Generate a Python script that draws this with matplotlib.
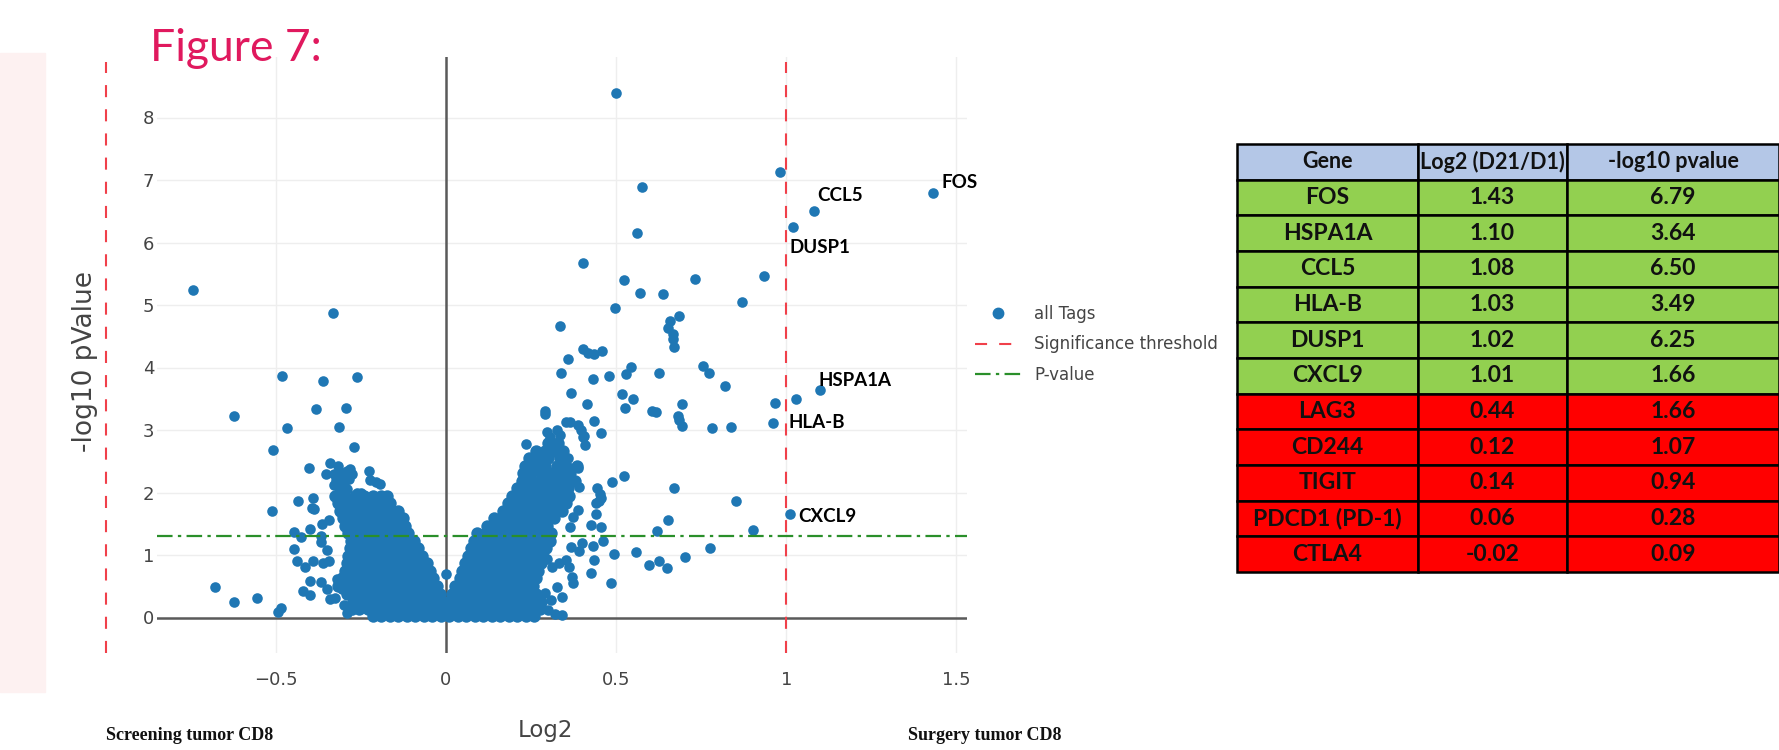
import numpy as np
import matplotlib.pyplot as plt
from matplotlib.patches import Rectangle
from matplotlib.lines import Line2D

# genes from the table (also plotted in the volcano)
genes = ['FOS', 'HSPA1A', 'CCL5', 'HLA-B', 'DUSP1', 'CXCL9',
         'LAG3', 'CD244', 'TIGIT', 'PDCD1 (PD-1)', 'CTLA4']
log2_fc = [1.43, 1.10, 1.08, 1.03, 1.02, 1.01, 0.44, 0.12, 0.14, 0.06, -0.02]
neg_log10_p = [6.79, 3.64, 6.50, 3.49, 6.25, 1.66, 1.66, 1.07, 0.94, 0.28, 0.09]
n_up = 6  # first rows are green in the table

# label offsets (pixels) for the annotated genes
label_offsets = {'FOS': (9, 11, 'left'), 'CCL5': (4, 16, 'left'),
                 'DUSP1': (-4, -21, 'left'), 'HSPA1A': (-2, 10, 'left'),
                 'HLA-B': (-8, -23, 'left'), 'CXCL9': (9, -3, 'left')}

fc_threshold = 1.0
p_threshold = 1.301

# sparse tags (log2, -log10 p)
left_tags = [(-0.742, 5.24), (-0.331, 4.87), (-0.483, 3.86), (-0.360, 3.79), (-0.261, 3.85),
             (-0.623, 3.23), (-0.383, 3.33), (-0.295, 3.35), (-0.468, 3.04), (-0.314, 3.05),
             (-0.509, 2.68), (-0.269, 2.73), (-0.402, 2.40), (-0.512, 1.71), (-0.434, 1.87),
             (-0.392, 1.92), (-0.395, 1.76), (-0.388, 1.73), (-0.678, 0.49), (-0.623, 0.25),
             (-0.554, 0.31), (-0.493, 0.09), (-0.485, 0.15), (-0.446, 1.37), (-0.446, 1.10),
             (-0.439, 0.91), (-0.415, 0.81), (-0.427, 1.29), (-0.400, 1.41), (-0.391, 0.90),
             (-0.368, 1.31), (-0.368, 1.21), (-0.365, 1.50), (-0.343, 1.56), (-0.350, 1.08),
             (-0.360, 0.87), (-0.345, 0.90), (-0.400, 0.59), (-0.421, 0.43), (-0.400, 0.36),
             (-0.368, 0.57), (-0.350, 0.46), (-0.341, 0.29), (-0.326, 0.31), (-0.306, 0.46),
             (-0.320, 0.62), (-0.277, 0.25), (-0.277, 0.12), (-0.290, 0.08), (-0.300, 0.20),
             (-0.341, 2.47), (-0.316, 2.42), (-0.353, 2.29), (-0.330, 2.30), (-0.310, 2.33),
             (-0.292, 2.35), (-0.283, 2.38), (-0.275, 2.30), (-0.225, 2.34), (-0.222, 2.20),
             (-0.205, 2.17), (-0.195, 2.13), (-0.322, 2.20), (-0.318, 2.10), (-0.300, 2.16),
             (-0.290, 2.05), (-0.310, 2.02), (-0.262, 1.99), (-0.250, 1.99), (-0.235, 1.93),
             (-0.220, 1.88), (-0.205, 1.83), (-0.330, 2.12), (-0.305, 2.25), (-0.285, 2.22)]

right_tags = [(0.501, 8.39), (0.575, 6.89), (0.560, 6.15), (0.402, 5.67), (0.523, 5.40),
              (0.731, 5.41), (0.571, 5.20), (0.637, 5.17), (0.497, 4.95), (0.870, 5.05),
              (0.335, 4.67), (0.686, 4.83), (0.658, 4.75), (0.653, 4.63), (0.666, 4.53),
              (0.668, 4.45), (0.671, 4.33), (0.402, 4.29), (0.418, 4.23), (0.435, 4.22),
              (0.459, 4.26), (0.359, 4.14), (0.337, 3.92), (0.431, 3.81), (0.479, 3.86),
              (0.529, 3.89), (0.543, 4.01), (0.625, 3.92), (0.754, 4.02), (0.773, 3.92),
              (0.820, 3.70), (0.366, 3.60), (0.516, 3.57), (0.550, 3.50), (0.526, 3.36),
              (0.414, 3.42), (0.606, 3.30), (0.617, 3.29), (0.695, 3.42), (0.683, 3.22),
              (0.686, 3.16), (0.693, 3.06), (0.783, 3.04), (0.839, 3.05), (0.291, 3.31),
              (0.291, 3.26), (0.434, 3.15), (0.457, 2.95), (0.405, 2.90), (0.408, 2.76),
              (0.235, 2.77), (0.359, 2.55), (0.387, 2.40), (0.489, 2.17), (0.523, 2.27),
              (0.671, 2.07), (0.852, 1.87), (0.443, 2.08), (0.452, 1.98), (0.457, 1.92),
              (0.449, 1.86), (0.440, 1.83), (0.392, 2.09), (0.651, 1.56), (0.621, 1.38),
              (0.425, 1.48), (0.457, 1.45), (0.462, 1.23), (0.433, 1.14), (0.434, 0.92),
              (0.426, 0.71), (0.494, 1.01), (0.557, 1.05), (0.486, 0.56), (0.596, 0.84),
              (0.625, 0.90), (0.650, 0.80), (0.703, 0.97), (0.777, 1.12), (0.903, 1.40),
              (0.983, 7.13), (0.935, 5.46), (0.967, 3.44), (0.962, 3.11), (0.369, 0.65),
              (0.374, 0.55), (0.326, 0.49), (0.341, 0.33), (0.341, 0.04), (0.366, 1.13),
              (0.352, 0.92), (0.332, 0.87), (0.362, 0.81), (0.400, 1.20), (0.390, 1.07),
              (0.374, 1.61), (0.388, 1.72), (0.365, 1.45), (0.298, 0.93), (0.312, 0.81),
              (0.354, 3.13), (0.364, 3.13), (0.388, 3.08), (0.398, 3.00), (0.403, 2.89),
              (0.325, 3.00), (0.335, 2.92), (0.296, 2.97), (0.306, 2.89), (0.000, 0.70),
              (0.300, 0.12), (0.310, 0.28), (0.290, 0.40), (0.320, 0.05)]

# dense V-shaped mass, read row by row: (-log10 p, [log2 values])
base_rows = [
    (0.03, [-0.215, -0.19, -0.165, -0.14, -0.115, -0.09, -0.065, -0.04, -0.015, 0.01,
            0.035, 0.06, 0.085, 0.11, 0.135, 0.16, 0.185, 0.21, 0.235, 0.26]),
    (0.13, [-0.255, -0.228, -0.203, -0.178, -0.153, -0.128, -0.103, -0.078, -0.053, -0.028,
            -0.003, 0.022, 0.047, 0.072, 0.097, 0.122, 0.147, 0.172, 0.197, 0.222, 0.247, 0.275]),
    (0.25, [-0.27, -0.245, -0.22, -0.195, -0.17, -0.145, -0.12, -0.095, -0.07, -0.045, -0.02,
            0.005, 0.03, 0.055, 0.08, 0.105, 0.13, 0.155, 0.18, 0.205, 0.23, 0.255, 0.28]),
    (0.37, [-0.292, -0.265, -0.24, -0.215, -0.19, -0.165, -0.14, -0.115, -0.09, -0.065, -0.04,
            -0.018, 0.018, 0.042, 0.067, 0.092, 0.117, 0.142, 0.167, 0.192, 0.217, 0.242, 0.265]),
]

left_arm_rows = [
    (0.51, [-0.318, -0.293, -0.268, -0.243, -0.218, -0.193, -0.168, -0.143, -0.118, -0.093, -0.068, -0.043, -0.025]),
    (0.63, [-0.305, -0.28, -0.255, -0.23, -0.205, -0.18, -0.155, -0.13, -0.105, -0.08, -0.055, -0.037]),
    (0.75, [-0.298, -0.273, -0.248, -0.223, -0.198, -0.173, -0.148, -0.123, -0.098, -0.073, -0.048]),
    (0.87, [-0.292, -0.267, -0.242, -0.217, -0.192, -0.167, -0.142, -0.117, -0.092, -0.067, -0.055]),
    (0.99, [-0.288, -0.263, -0.238, -0.213, -0.188, -0.163, -0.138, -0.113, -0.088, -0.07]),
    (1.11, [-0.283, -0.258, -0.233, -0.208, -0.183, -0.158, -0.133, -0.108, -0.082]),
    (1.23, [-0.279, -0.254, -0.229, -0.204, -0.179, -0.154, -0.129, -0.104, -0.094]),
    (1.35, [-0.287, -0.262, -0.237, -0.212, -0.187, -0.162, -0.137, -0.112]),
    (1.47, [-0.298, -0.27, -0.245, -0.22, -0.195, -0.17, -0.145, -0.12]),
    (1.59, [-0.303, -0.278, -0.25, -0.222, -0.197, -0.172, -0.147, -0.127]),
    (1.71, [-0.312, -0.284, -0.258, -0.232, -0.205, -0.18, -0.155, -0.14]),
    (1.83, [-0.318, -0.29, -0.262, -0.235, -0.21, -0.185, -0.163]),
    (1.95, [-0.326, -0.3, -0.268, -0.24, -0.215, -0.19, -0.172]),
]

right_arm_rows = [
    (0.51, [0.028, 0.053, 0.078, 0.103, 0.128, 0.153, 0.178, 0.203, 0.228, 0.255]),
    (0.63, [0.04, 0.065, 0.09, 0.115, 0.14, 0.165, 0.19, 0.215, 0.24, 0.265]),
    (0.75, [0.048, 0.073, 0.098, 0.123, 0.148, 0.173, 0.198, 0.223, 0.248, 0.27]),
    (0.87, [0.057, 0.082, 0.107, 0.132, 0.157, 0.182, 0.207, 0.232, 0.257, 0.278]),
    (0.99, [0.066, 0.091, 0.116, 0.141, 0.166, 0.191, 0.216, 0.241, 0.266, 0.285]),
    (1.11, [0.074, 0.099, 0.124, 0.149, 0.174, 0.199, 0.224, 0.249, 0.274, 0.295]),
    (1.23, [0.082, 0.107, 0.132, 0.157, 0.182, 0.207, 0.232, 0.257, 0.282, 0.305]),
    (1.35, [0.092, 0.117, 0.142, 0.167, 0.192, 0.217, 0.242, 0.267, 0.29, 0.31]),
    (1.47, [0.121, 0.146, 0.171, 0.196, 0.221, 0.246, 0.271, 0.296]),
    (1.59, [0.142, 0.167, 0.192, 0.217, 0.242, 0.267, 0.292, 0.318]),
    (1.71, [0.168, 0.193, 0.218, 0.243, 0.268, 0.293, 0.32, 0.34]),
    (1.83, [0.182, 0.207, 0.232, 0.257, 0.282, 0.307, 0.333, 0.352]),
    (1.95, [0.195, 0.22, 0.245, 0.27, 0.295, 0.32, 0.345, 0.362]),
    (2.07, [0.208, 0.233, 0.258, 0.283, 0.31, 0.335, 0.36]),
    (2.19, [0.222, 0.25, 0.275, 0.30, 0.33, 0.355, 0.378]),
    (2.31, [0.225, 0.25, 0.28, 0.31, 0.34, 0.365]),
    (2.43, [0.232, 0.26, 0.29, 0.325, 0.352, 0.385]),
    (2.55, [0.243, 0.27, 0.30, 0.335]),
    (2.67, [0.265, 0.29, 0.318, 0.345]),
    (2.80, [0.30, 0.33]),
]

sparse_x, sparse_y = [], []
for pts in (left_tags, right_tags):
    for x, y in pts:
        sparse_x.append(x)
        sparse_y.append(y)
sparse_x += log2_fc
sparse_y += neg_log10_p

dense_x, dense_y = [], []
for rows in (base_rows, left_arm_rows, right_arm_rows):
    for y, row in rows:
        dense_x += row
        dense_y += [y] * len(row)

blue = '#1f77b4'
grey_txt = '#444444'
red = '#f0404a'
green = '#2a8f2a'

fig = plt.figure(figsize=(17.79, 7.5), dpi=100)

# pale strip on the far left
fig.patches.append(Rectangle((0, 58 / 750), 45 / 1779, 639 / 750,
                             transform=fig.transFigure, color='#fdf1f1', zorder=0))

ax = fig.add_axes([157 / 1779, 97 / 750, 810 / 1779, 596 / 750])
ax.set_xlim(-0.849, 1.531)
ax.set_ylim(-0.568, 8.968)
for s in ax.spines.values():
    s.set_visible(False)

ax.set_xticks([-0.5, 0, 0.5, 1, 1.5])
ax.set_xticklabels(['\u22120.5', '0', '0.5', '1', '1.5'])
ax.set_yticks(range(0, 9))
ax.tick_params(axis='both', length=0, labelsize=13, labelcolor=grey_txt)
ax.tick_params(axis='y', pad=2)
ax.tick_params(axis='x', pad=13)
ax.grid(True, color='#eeeeee', linewidth=1)
ax.set_axisbelow(True)

ax.axhline(0, color='#5a5a5a', linewidth=1.8, zorder=1)
ax.axvline(0, color='#5a5a5a', linewidth=1.8, zorder=1)

ax.scatter(dense_x, dense_y, s=80, color=blue, linewidths=0, zorder=2)
ax.scatter(sparse_x, sparse_y, s=58, color=blue, linewidths=0, zorder=2)

# thresholds
for xv in (-fc_threshold, fc_threshold):
    ax.axvline(xv, ymax=0.992, color=red, linewidth=1.5,
               linestyle=(0, (5.8, 5.8)), clip_on=False, zorder=3)
ax.axhline(p_threshold, color=green, linewidth=1.6,
           linestyle=(0, (7, 2.4, 1.5, 2.4)), zorder=3)

# gene labels
for g, x, y in zip(genes[:n_up], log2_fc[:n_up], neg_log10_p[:n_up]):
    dx, dy, ha = label_offsets[g]
    ax.annotate(g, (x, y), xytext=(dx, dy), textcoords='offset pixels',
                ha=ha, va='center', fontsize=13.5, fontweight='bold',
                family='Lato', color='black', zorder=4)

# legend
handles = [Line2D([], [], marker='o', linestyle='none', color=blue, markersize=7.5),
           Line2D([], [], color=red, linewidth=1.5, linestyle=(0, (5.8, 5.8))),
           Line2D([], [], color=green, linewidth=1.6, linestyle=(0, (7, 2.4, 1.5, 2.4)))]
fig.legend(handles, ['all Tags', 'Significance threshold', 'P-value'],
           loc='upper left', bbox_to_anchor=(975 / 1779, (750 - 305) / 750),
           frameon=False, fontsize=12, labelcolor=grey_txt, borderpad=0,
           borderaxespad=0, handlelength=2.8, handletextpad=0.75, labelspacing=0.75)

# axis titles and captions
fig.text(85 / 1779, (750 - 362) / 750, '-log10 pValue', rotation=90, ha='center',
         va='center', fontsize=19, color=grey_txt)
fig.text(545 / 1779, (750 - 731) / 750, 'Log2', ha='center', va='center',
         fontsize=16.5, color=grey_txt)
fig.text(106 / 1779, (750 - 735) / 750, 'Screening tumor CD8', ha='left', va='center',
         fontsize=13, fontweight='bold', family='Liberation Serif', color='#111111')
fig.text(908 / 1779, (750 - 735) / 750, 'Surgery tumor CD8', ha='left', va='center',
         fontsize=13, fontweight='bold', family='Liberation Serif', color='#111111')
fig.text(150 / 1779, (750 - 61) / 750, 'Figure 7:', ha='left', va='baseline',
         fontsize=32, family='Lato', color='#e0195e')

# table
tax = fig.add_axes([1237 / 1779, 178 / 750, 542 / 1779, 428 / 750])
tax.axis('off')
cell_text = [[g, f'{a:.2f}', f'{b:.2f}'] for g, a, b in zip(genes, log2_fc, neg_log10_p)]
cell_colours = [['#92d050'] * 3 if i < n_up else ['#ff0000'] * 3 for i in range(len(genes))]
tbl = tax.table(cellText=cell_text, colLabels=['Gene', 'Log2 (D21/D1)', '-log10 pvalue'],
                cellColours=cell_colours, colColours=['#b4c7e7'] * 3,
                colWidths=[181 / 542, 149 / 542, 212 / 542], cellLoc='center',
                bbox=[0, 0, 1, 1])
tbl.auto_set_font_size(False)
for (r, c), cell in tbl.get_celld().items():
    cell.set_edgecolor('black')
    cell.set_linewidth(1.8)
    t = cell.get_text()
    t.set_fontsize(15.5 if r == 0 else 16.5)
    t.set_fontweight('bold')
    t.set_fontfamily('Lato')
    t.set_color('#111111')

fig.savefig('out.png', dpi=100)
